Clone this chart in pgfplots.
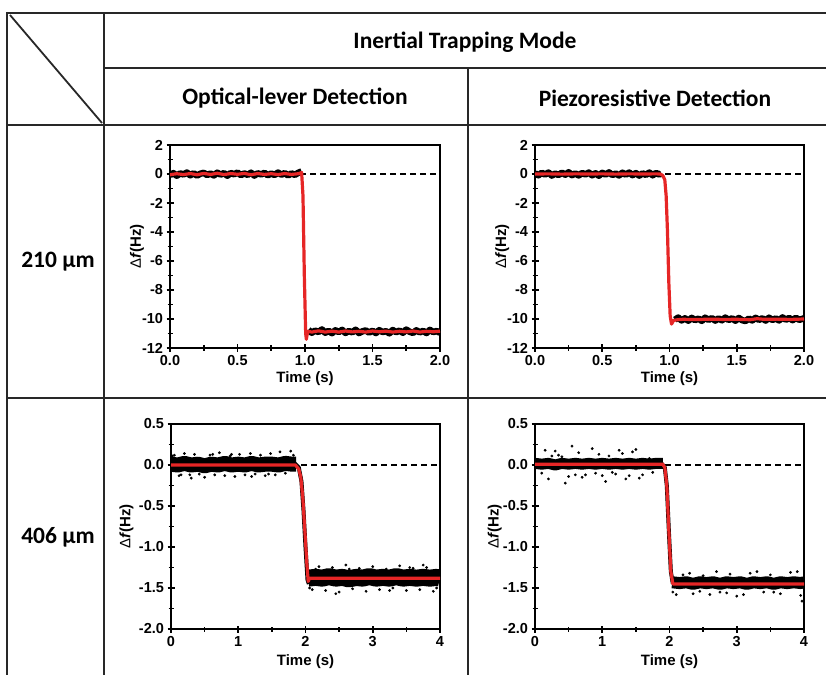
\documentclass[border=0pt]{standalone}
\usepackage{fontspec}
\setmainfont{Liberation Sans}
\newfontfamily\calfont{Carlito}
\usepackage{pgfplots}
\pgfplotsset{compat=1.18}
\definecolor{fitred}{RGB}{230,38,38}
\definecolor{gridline}{RGB}{40,40,40}
\pgfplotsset{
  panel/.style={
    scale only axis, anchor=south west,
    axis line style={line width=1.6pt},
    every tick/.style={line width=1.6pt, black},
    major tick length=7pt, minor tick length=5pt,
    tick align=center, xtick pos=bottom, ytick pos=left,
    /pgf/number format/assume math mode=true,
    ticklabel style={font=\bfseries\fontsize{14.5}{16}\selectfont},
    label style={font=\bfseries\fontsize{15}{17}\selectfont},
    xlabel={Time (s)},
    ylabel={{\mdseries Δ}\textit{f}(Hz)},
    minor x tick num=1, minor y tick num=1,
    clip=true,
  },
  toprow/.style={panel,
    width=270pt, height=203pt,
    xmin=0, xmax=2, ymin=-12, ymax=2,
    xtick={0,0.5,1,1.5,2}, xticklabels={0.0,0.5,1.0,1.5,2.0},
    ytick={-12,-10,-8,-6,-4,-2,0,2}, yticklabels={-12,-10,-8,-6,-4,-2,0,2},
    x label style={at={(axis description cs:0.5,-0.15)}, anchor=center},
    y label style={at={(axis description cs:-0.122,0.5)}, anchor=center},
  },
  botrow/.style={panel,
    width=270pt, height=205pt,
    xmin=0, xmax=4, ymin=-2, ymax=0.5,
    xtick={0,1,2,3,4}, xticklabels={0,1,2,3,4},
    ytick={-2,-1.5,-1,-0.5,0,0.5}, yticklabels={-2.0,-1.5,-1.0,-0.5,0.0,0.5},
    x label style={at={(axis description cs:0.5,-0.16)}, anchor=center},
    y label style={at={(axis description cs:-0.165,0.5)}, anchor=center},
  },
  band/.style={black, line join=round, line cap=butt},
  fit/.style={fitred, line width=3.2pt, line join=round},
  zero/.style={black, line width=1.2pt, dash pattern=on 6pt off 4pt},
  dots/.style={only marks, mark=*, mark size=1.2pt, black},
}
\begin{document}
\begin{tikzpicture}[x=1pt,y=1pt]
\useasboundingbox (0pt,0pt) rectangle (826pt,675pt);

% ---------------- top-left: optical lever, 210 um
\begin{axis}[toprow, at={(170pt,327pt)}]
\addplot[zero] coordinates {(0,0) (2,0)};
\addplot[band, line width=6.5pt] coordinates {
(0.000,-0.08) (0.025,0.06) (0.050,-0.12) (0.075,0.04) (0.100,-0.03) (0.125,0.10) (0.150,-0.09) (0.175,0.05)
(0.200,-0.11) (0.225,0.02) (0.250,0.08) (0.275,-0.07) (0.300,0.03) (0.325,-0.10) (0.350,0.09) (0.375,-0.04)
(0.400,0.06) (0.425,-0.12) (0.450,0.07) (0.475,-0.02) (0.500,0.10) (0.525,-0.08) (0.550,0.04) (0.575,-0.06)
(0.600,0.09) (0.625,-0.11) (0.650,0.05) (0.675,-0.03) (0.700,0.08) (0.725,-0.09) (0.750,0.03) (0.775,-0.07)
(0.800,0.10) (0.825,-0.05) (0.850,0.06) (0.875,-0.10) (0.900,0.04) (0.925,-0.06) (0.950,0.08) (0.975,0.18)};
\addplot[band, line width=6.5pt] coordinates {
(1.025,-10.75) (1.050,-10.95) (1.075,-10.80) (1.100,-10.90) (1.125,-10.72) (1.150,-10.95) (1.175,-10.82) (1.200,-10.98)
(1.225,-10.78) (1.250,-10.90) (1.275,-10.75) (1.300,-10.96) (1.325,-10.83) (1.350,-10.92) (1.375,-10.74) (1.400,-10.97)
(1.425,-10.85) (1.450,-10.79) (1.475,-10.94) (1.500,-10.81) (1.525,-10.97) (1.550,-10.77) (1.575,-10.90) (1.600,-10.84)
(1.625,-10.99) (1.650,-10.76) (1.675,-10.91) (1.700,-10.80) (1.725,-10.95) (1.750,-10.73) (1.775,-10.88) (1.800,-10.96)
(1.825,-10.78) (1.850,-10.92) (1.875,-10.82) (1.900,-10.97) (1.925,-10.75) (1.950,-10.90) (1.975,-10.83) (2.000,-10.95)};
\addplot[fit] coordinates {
(0,-0.05) (0.05,0.02) (0.1,-0.04) (0.15,0.03) (0.2,-0.05) (0.25,0.04) (0.3,-0.03) (0.35,0.05) (0.4,-0.04)
(0.45,0.03) (0.5,-0.02) (0.55,0.04) (0.6,-0.05) (0.65,0.03) (0.7,-0.03) (0.75,0.02) (0.8,-0.04) (0.85,0.03)
(0.9,-0.03) (0.95,0.02) (0.975,0.1) (0.985,-1.5) (0.995,-7) (1.005,-11) (1.01,-11.4) (1.02,-10.85) (1.05,-10.9)
(1.1,-10.82) (1.15,-10.9) (1.2,-10.84) (1.25,-10.9) (1.3,-10.83) (1.35,-10.89) (1.4,-10.85) (1.45,-10.9)
(1.5,-10.83) (1.55,-10.88) (1.6,-10.84) (1.65,-10.9) (1.7,-10.85) (1.75,-10.89) (1.8,-10.83) (1.85,-10.9)
(1.9,-10.85) (1.95,-10.88) (2.0,-10.84)};
\end{axis}

% ---------------- top-right: piezoresistive, 210 um
\begin{axis}[toprow, at={(535pt,327pt)}, width=269pt]
\addplot[zero] coordinates {(0,0) (2,0)};
\addplot[band, line width=6.5pt] coordinates {
(0.000,0.05) (0.025,-0.09) (0.050,0.08) (0.075,-0.04) (0.100,0.10) (0.125,-0.11) (0.150,0.03) (0.175,-0.07)
(0.200,0.09) (0.225,-0.05) (0.250,0.12) (0.275,-0.08) (0.300,0.04) (0.325,-0.10) (0.350,0.07) (0.375,-0.03)
(0.400,0.10) (0.425,-0.09) (0.450,0.05) (0.475,-0.12) (0.500,0.08) (0.525,-0.04) (0.550,0.11) (0.575,-0.07)
(0.600,0.03) (0.625,-0.10) (0.650,0.09) (0.675,-0.05) (0.700,0.10) (0.725,-0.08) (0.750,0.06) (0.775,-0.11)
(0.800,0.04) (0.825,-0.06) (0.850,0.10) (0.875,-0.09) (0.900,0.07) (0.925,-0.04) (0.940,0.05)};
\addplot[band, line width=6.5pt] coordinates {
(1.040,-10.05) (1.065,-9.90) (1.090,-10.10) (1.115,-9.95) (1.140,-10.12) (1.165,-9.92) (1.190,-10.08) (1.215,-9.97)
(1.240,-10.13) (1.265,-9.91) (1.290,-10.06) (1.315,-9.94) (1.340,-10.11) (1.365,-9.96) (1.390,-10.09) (1.415,-9.90)
(1.440,-10.07) (1.465,-9.95) (1.490,-10.12) (1.515,-9.93) (1.540,-10.08) (1.565,-10.14) (1.590,-9.97) (1.615,-10.10)
(1.640,-9.92) (1.665,-10.06) (1.690,-9.95) (1.715,-10.11) (1.740,-9.91) (1.765,-10.07) (1.790,-9.96) (1.815,-10.10)
(1.840,-9.89) (1.865,-10.05) (1.890,-9.93) (1.915,-10.08) (1.940,-9.92) (1.965,-10.06) (2.000,-9.95)};
\addplot[fit] coordinates {
(0,0) (0.1,0.01) (0.2,-0.01) (0.3,0.01) (0.4,0) (0.5,0.01) (0.6,-0.01) (0.7,0.01) (0.8,0) (0.9,0.01) (0.93,0)
(0.95,-0.1) (0.965,-0.4) (0.975,-1.5) (0.985,-4) (0.995,-7.5) (1.005,-9.8) (1.015,-10.35) (1.03,-10.1)
(1.06,-10.05) (1.1,-10.02) (1.2,-10.04) (1.3,-10.01) (1.4,-10.03) (1.5,-10.02) (1.6,-10.05) (1.65,-9.98)
(1.7,-10.02) (1.8,-10.01) (1.9,-10.03) (2.0,-10.0)};
\end{axis}

% ---------------- bottom-left: optical lever, 406 um
\begin{axis}[botrow, at={(171pt,46pt)}, width=269pt]
\addplot[zero] coordinates {(0,0) (4,0)};
\addplot[band, line width=15pt] coordinates {
(0.00,0.01) (0.10,0.00) (0.20,0.02) (0.30,0.00) (0.40,0.01) (0.50,-0.01) (0.60,0.01) (0.70,0.00) (0.80,0.02)
(0.90,0.00) (1.00,0.01) (1.10,0.00) (1.20,0.02) (1.30,0.00) (1.40,0.01) (1.50,0.01) (1.60,0.00) (1.70,0.02)
(1.80,0.01) (1.86,0.01)};
\addplot[band, line width=4pt] coordinates {
(1.84,0.02) (1.90,-0.03) (1.94,-0.2) (1.97,-0.55) (2.00,-1.0) (2.03,-1.4) (2.05,-1.45)};
\addplot[band, line width=17pt] coordinates {
(2.04,-1.38) (2.15,-1.37) (2.25,-1.38) (2.35,-1.36) (2.45,-1.38) (2.55,-1.37) (2.65,-1.39) (2.75,-1.37)
(2.85,-1.38) (2.95,-1.36) (3.05,-1.38) (3.15,-1.37) (3.25,-1.38) (3.35,-1.36) (3.45,-1.38) (3.55,-1.37)
(3.65,-1.38) (3.75,-1.37) (3.85,-1.38) (3.95,-1.37) (4.00,-1.38)};
\addplot[dots] coordinates {
(0.05,0.12) (0.12,-0.13) (0.20,0.14) (0.28,-0.12) (0.35,0.13) (0.42,-0.11) (0.50,-0.15) (0.58,0.12)
(0.65,-0.12) (0.72,0.15) (0.80,-0.13) (0.88,0.11) (0.95,-0.14) (1.02,0.13) (1.10,-0.12) (1.18,0.14)
(1.25,-0.11) (1.33,0.12) (1.40,-0.13) (1.48,0.14) (1.55,-0.12) (1.62,0.16) (1.70,-0.10) (1.78,0.17)
(1.82,0.12) (0.30,-0.16) (0.90,0.13) (1.20,-0.14) (0.15,-0.12) (0.62,0.13) (0.02,0.11) (1.45,-0.11)
(2.10,-1.52) (2.20,-1.24) (2.30,-1.53) (2.40,-1.25) (2.50,-1.55) (2.60,-1.22) (2.70,-1.51) (2.80,-1.26)
(2.90,-1.54) (3.00,-1.24) (3.10,-1.52) (3.20,-1.27) (3.30,-1.50) (3.40,-1.23) (3.50,-1.53) (3.60,-1.26)
(3.70,-1.52) (3.80,-1.25) (3.90,-1.54) (2.06,-1.50) (2.45,-1.57) (3.25,-1.53) (3.75,-1.22) (2.15,-1.27)
(3.95,-1.50) (2.65,-1.27) (3.55,-1.25)};
\addplot[fit] coordinates {
(0,0) (1.85,0) (1.90,-0.05) (1.93,-0.15) (1.96,-0.4) (1.99,-0.8) (2.02,-1.2) (2.04,-1.42) (2.06,-1.38) (4,-1.38)};
\end{axis}

% ---------------- bottom-right: piezoresistive, 406 um
\begin{axis}[botrow, at={(535pt,46pt)}, width=269pt,
  y label style={at={(axis description cs:-0.15,0.5)}, anchor=center}]
\addplot[zero] coordinates {(0,0) (4,0)};
\addplot[band, line width=11pt] coordinates {
(0.00,0.02) (0.10,0.01) (0.20,0.02) (0.30,0.00) (0.40,0.02) (0.50,0.01) (0.60,0.02) (0.70,0.01) (0.80,0.02)
(0.90,0.01) (1.00,0.02) (1.10,0.01) (1.20,0.02) (1.30,0.01) (1.40,0.02) (1.50,0.01) (1.60,0.02) (1.70,0.01)
(1.80,0.02) (1.90,0.02)};
\addplot[band, line width=4pt] coordinates {
(1.88,0.02) (1.93,-0.03) (1.96,-0.25) (1.99,-0.8) (2.02,-1.3) (2.05,-1.45)};
\addplot[band, line width=12pt] coordinates {
(2.04,-1.43) (2.15,-1.44) (2.25,-1.43) (2.35,-1.45) (2.45,-1.43) (2.55,-1.44) (2.65,-1.43) (2.75,-1.45)
(2.85,-1.43) (2.95,-1.44) (3.05,-1.43) (3.15,-1.45) (3.25,-1.43) (3.35,-1.44) (3.45,-1.43) (3.55,-1.45)
(3.65,-1.43) (3.75,-1.44) (3.85,-1.43) (3.95,-1.44) (4.00,-1.43)};
\addplot[dots] coordinates {
(0.15,0.18) (0.30,0.17) (0.35,0.12) (0.55,0.23) (0.65,0.15) (0.85,0.20) (0.95,0.13) (1.25,0.18)
(1.30,0.14) (1.45,0.16) (1.50,0.19) (0.20,-0.17) (0.45,-0.22) (0.50,-0.14) (0.70,-0.15) (0.75,-0.12)
(1.00,-0.13) (1.05,-0.20) (1.20,-0.11) (1.40,-0.13) (1.55,-0.16) (1.60,-0.12) (0.10,-0.10) (0.40,0.10)
(1.10,0.11) (1.70,0.08) (1.35,-0.17) (0.90,-0.10) (1.75,-0.09) (0.60,-0.12) (0.25,0.11) (1.15,-0.09)
(2.05,-1.55) (2.10,-1.58) (2.30,-1.32) (2.35,-1.57) (2.50,-1.35) (2.60,-1.58) (2.70,-1.30) (2.85,-1.56)
(2.90,-1.33) (3.10,-1.58) (3.20,-1.32) (3.40,-1.55) (3.50,-1.34) (3.65,-1.57) (3.80,-1.31) (3.95,-1.59)
(3.97,-1.66) (3.90,-1.30) (2.20,-1.34) (3.00,-1.60) (3.30,-1.30) (2.75,-1.55) (2.45,-1.54) (3.55,-1.55)};
\addplot[fit] coordinates {
(0,0.01) (1.90,0.01) (1.93,-0.03) (1.96,-0.25) (1.99,-0.8) (2.02,-1.3) (2.05,-1.45) (4,-1.45)};
\end{axis}

% ---------------- table frame
\begin{scope}[draw=gridline, line width=2.4pt]
\draw (7pt,662pt) -- (826pt,662pt);
\draw (104pt,607pt) -- (826pt,607pt);
\draw (7pt,550pt) -- (826pt,550pt);
\draw (7pt,277pt) -- (826pt,277pt);
\draw (7pt,663.2pt) -- (7pt,0pt);
\draw (104pt,662pt) -- (104pt,0pt);
\draw (468pt,607pt) -- (468pt,0pt);
\draw[line width=1.8pt] (10pt,660pt) -- (102pt,552pt);
\end{scope}
\begin{scope}[font=\calfont\bfseries\fontsize{23.5}{26}\selectfont]
\node at (465pt,633pt) {Inertial Trapping Mode};
\node at (295pt,577pt) {Optical-lever Detection};
\node at (655pt,577pt) {Piezoresistive Detection};
\node at (58pt,413pt) {210 µm};
\node at (58pt,138pt) {406 µm};
\end{scope}
\end{tikzpicture}
\end{document}
